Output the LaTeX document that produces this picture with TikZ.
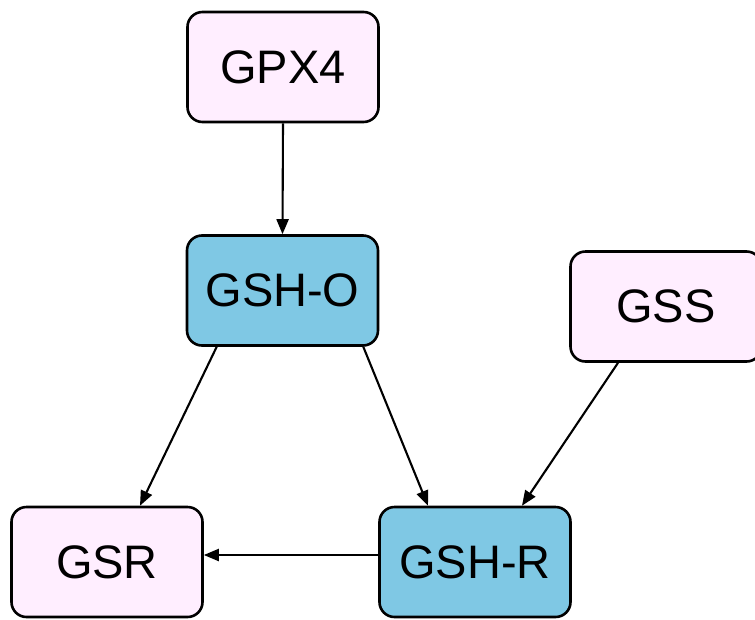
\documentclass[tikz,border=0pt]{standalone}
\usepackage{fontspec}
\setmainfont{Liberation Sans}
\usetikzlibrary{arrows.meta}
\definecolor{pinkfill}{HTML}{FFEEFF}
\definecolor{bluefill}{HTML}{7FC8E4}
\begin{document}
\begin{tikzpicture}[x=1pt,y=-1pt,
  box/.style={draw=black,line width=2.6pt,rounded corners=15pt,
    minimum width=191pt,minimum height=110pt,inner sep=0pt,
    font=\fontsize{47}{50}\selectfont},
  pinkbox/.style={box,fill=pinkfill},
  bluebox/.style={box,fill=bluefill},
  link/.style={line width=2.1pt,-{Triangle[length=15pt,width=12pt]}}]
\useasboundingbox (0,0) rectangle (755,619);
\node[pinkbox] (gpx4) at (283,67) {GPX4};
\node[bluebox] (gsho) at (282.5,290.5) {GSH-O};
\node[pinkbox] (gss)  at (666,306.5) {GSS};
\node[pinkbox] (gsr)  at (107,562) {GSR};
\node[bluebox] (gshr) at (475,562) {GSH-R};
\draw[link] (gpx4.south) -- (gsho.north);
\draw[link] (gsho.south west) ++(31,0) coordinate (a1) (a1) -- ([xshift=33pt]gsr.north);
\draw[link] (gsho.south east) ++(-16,0) coordinate (a2) (a2) -- ([xshift=-47pt]gshr.north);
\draw[link] ([xshift=-48pt]gss.south) -- ([xshift=47pt]gshr.north);
\draw[link] ([yshift=7pt]gshr.west) -- ([yshift=7pt]gsr.east);
\end{tikzpicture}
\end{document}
